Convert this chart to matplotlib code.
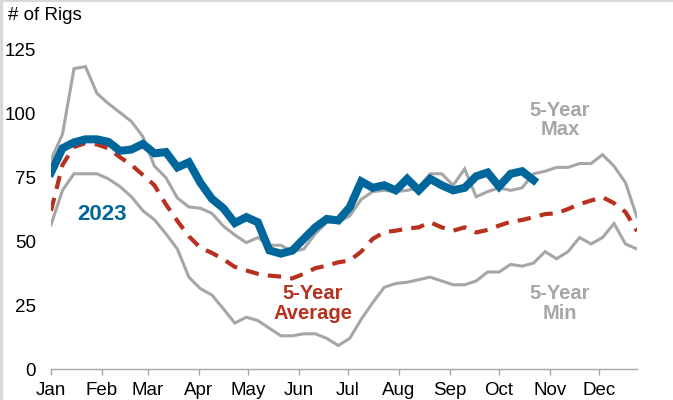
import matplotlib
matplotlib.use("Agg")
import matplotlib.pyplot as plt
from matplotlib.lines import Line2D

plt.rcParams['font.family'] = ['Liberation Sans', 'DejaVu Sans']

# weekly values, week 1 .. week 52
max5 = [82, 92, 117.7, 118.5, 108, 104, 100.5, 97, 91, 79.5,
        75, 67, 63.5, 63, 61, 56, 52.5, 49.5, 51.5, 48.5,
        48.5, 46, 47, 53, 57.5, 57.5, 60, 66.5, 69.5, 70,
        69.5, 70, 71, 76.5, 76.5, 72, 78.4, 67.5, 69.5, 71,
        70, 71, 76.5, 77.5, 79, 79, 80.5, 80.5, 84, 79.5,
        73, 59.5]
min5 = [56.5, 70, 76.5, 76.5, 76.5, 74.5, 71.5, 67.5, 62, 58.5,
        53, 47, 36, 31.5, 29, 23.6, 18, 20.3, 19, 16,
        13, 13, 13.8, 13.8, 12, 9.2, 12, 19.5, 26, 32,
        33.5, 34, 35, 36, 34.5, 33, 33, 34.5, 38, 38,
        41, 40.3, 41.5, 46, 43.2, 46, 51.5, 49, 51.5, 57,
        49, 47]
avg5 = [62, 80, 87, 88.5, 88, 86.5, 83, 80, 76, 72,
        64.5, 58, 52, 47.5, 45.5, 43, 40, 38.6, 37.3, 36.6,
        36.2, 35.5, 37.3, 39.5, 40.5, 41.8, 42.5, 46, 51, 53.6,
        54.2, 55, 55.5, 57.5, 55.5, 54.2, 55.5, 53.5, 54.5, 56.2,
        57.7, 58.4, 59.5, 60.7, 61, 62.7, 64.6, 66, 67.3, 65,
        61.5, 54]
y2023 = [77, 86.5, 88.8, 90, 90, 89, 85.5, 86, 88.2, 84.5,
         85, 79, 81, 73, 66.7, 63, 57.2, 59.5, 57.5, 46.5,
         45.2, 46.4, 51, 55.5, 58.8, 58.2, 63.4, 73.5, 71, 72,
         70, 74.5, 70, 74.5, 72, 70, 71, 75.5, 77, 71.5,
         76.5, 77.5, 74]

months = ['Jan', 'Feb', 'Mar', 'Apr', 'May', 'Jun',
          'Jul', 'Aug', 'Sep', 'Oct', 'Nov', 'Dec']
month_start_day = [0, 31, 59, 90, 120, 151, 181, 212, 243, 273, 304, 334]

days = [7 * i for i in range(len(max5))]
days_2023 = [7 * i for i in range(len(y2023))]

gray = '#A6A6A6'
red = '#B8311F'
blue = '#00679C'

fig = plt.figure(figsize=(6.73, 4.0), dpi=100)
ax = fig.add_axes([51 / 673, 1 - 369 / 400, (637 - 51) / 673, (369 - 50) / 400])

ax.plot(days, max5, color=gray, lw=2.2, solid_joinstyle='miter')
ax.plot(days, min5, color=gray, lw=2.2, solid_joinstyle='miter')
ax.plot(days, avg5, color=red, lw=3.0, dashes=(3.2, 2.2))
ax.plot(days_2023, y2023, color=blue, lw=5.8, solid_joinstyle='miter')

ax.set_xlim(0, days[-1])
ax.set_ylim(0, 125)
ax.set_yticks([0, 25, 50, 75, 100, 125])
ax.set_xticks(month_start_day)
ax.set_xticklabels(months)

for s in ['top', 'right', 'left']:
    ax.spines[s].set_visible(False)
ax.spines['bottom'].set_color(gray)
ax.spines['bottom'].set_linewidth(1.0)
ax.tick_params(axis='x', direction='out', length=4, width=1.0, color=gray,
               labelsize=13.5, pad=5.5, labelcolor='black')
ax.tick_params(axis='y', length=0, labelsize=13.5, pad=11, labelcolor='black')

fig.text(8 / 673, 1 - 16 / 400, '# of Rigs', fontsize=13.5, va='center', ha='left')

ax.text(31, 60.7, '2023', color=blue, fontsize=16, fontweight='bold',
        ha='center', va='center')
ax.text(159.5, 25.8, '5-Year\nAverage', color=red, fontsize=14.5, fontweight='bold',
        ha='center', va='center', linespacing=1.05)
ax.text(310, 97.6, '5-Year\nMax', color=gray, fontsize=14.5, fontweight='bold',
        ha='center', va='center', linespacing=1.05)
ax.text(310, 25.8, '5-Year\nMin', color=gray, fontsize=14.5, fontweight='bold',
        ha='center', va='center', linespacing=1.05)

# light border on the left and top edges
fig.add_artist(Line2D([0.002, 0.002], [0, 1], color='#D9D9D9', lw=2.5, transform=fig.transFigure))
fig.add_artist(Line2D([0, 1], [0.998, 0.998], color='#D9D9D9', lw=1.5, transform=fig.transFigure))

fig.savefig('out.png', dpi=100)
